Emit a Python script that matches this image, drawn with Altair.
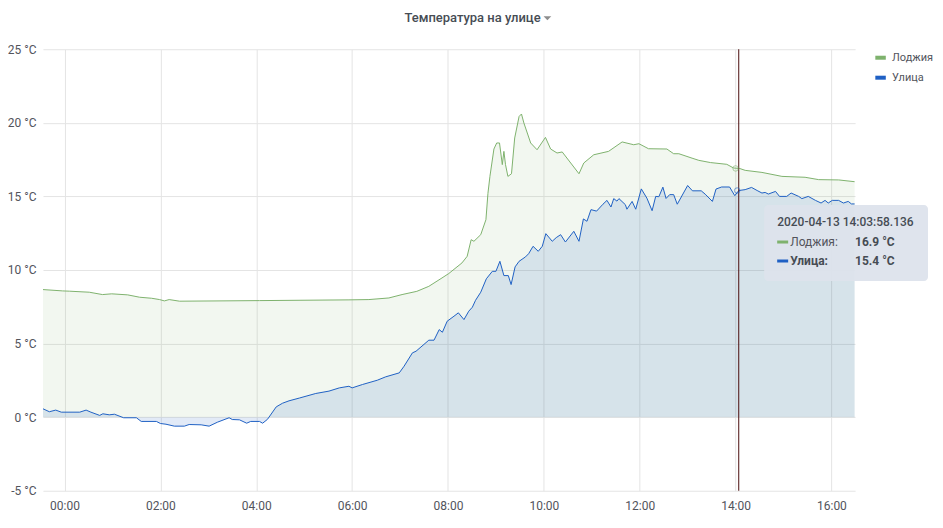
import altair as alt
import pandas as pd

DAY = "2020-04-13"

# minutes after midnight 2020-04-13 (negative = evening of 04-12), °C
loggia_min = [-27, -2.5, 6, 31, 47.5, 59, 79, 94, 109, 119, 125, 131, 144, 244, 356, 381, 406,
              422.5, 441, 456, 472.5, 481, 497.5, 504, 509, 512.5, 521, 527.5, 530, 532.5, 537.5,
              541, 544.5, 548, 550, 552, 555, 559.5, 563.5, 569, 572, 575, 583.5, 591.5, 602,
              608.5, 616.5, 623, 644, 650, 662.5, 681, 698, 712.5, 719, 731, 754, 762.5, 769,
              785.5, 794, 808.5, 829, 837.5, 845, 852, 873, 898, 927, 944, 969, 989]
loggia_temp = [8.67, 8.58, 8.56, 8.49, 8.33, 8.38, 8.31, 8.15, 8.08, 7.99, 7.90, 7.99, 7.88, 7.92,
               7.97, 7.99, 8.10, 8.33, 8.55, 8.89, 9.46, 9.76, 10.48, 10.93, 12.06, 11.95, 12.4,
               13.42, 15.2, 16.36, 18.22, 18.63, 18.63, 17.16, 18.06, 17.16, 16.36, 16.54, 18.97,
               20.43, 20.6, 19.99, 18.63, 18.17, 19.01, 18.22, 17.95, 18.02, 16.54, 17.27, 17.83,
               18.06, 18.7, 18.51, 18.58, 18.24, 18.22, 17.9, 17.9, 17.6, 17.45, 17.3, 17.18,
               16.93, 16.9, 16.77, 16.63, 16.36, 16.3, 16.14, 16.12, 16.0]

street_min = [-27, -19, -11, -4, 19, 27, 33, 44, 48, 56, 62.5, 74, 90, 96, 115, 120, 127, 137.5,
              150, 156, 171, 181, 191.5, 206, 210, 219, 228, 233, 244, 248, 254, 265, 273, 281,
              294, 314.5, 331, 344, 356, 360, 373, 391.5, 402, 419, 425, 435.5, 440, 456, 462.5,
              469, 473, 479, 487.5, 493, 500, 506, 510.5, 514.5, 521, 528, 535.5, 540, 545, 550,
              555.5, 559, 564, 569, 577, 581, 586.5, 593, 598, 602.5, 610.5, 615.5, 621, 627,
              637.5, 644, 649.5, 654, 659, 666, 674, 679, 684, 687.5, 691.5, 694, 702, 704, 710.5,
              715, 722, 729, 735.5, 740, 744, 749, 753, 757.5, 762.5, 767, 780, 786, 797, 802,
              811, 815.5, 822.5, 832.5, 839, 844, 852, 860, 867, 873, 877, 881, 890, 895, 904,
              909.5, 919, 923, 931, 940, 947, 952, 956, 961, 969, 975, 981, 985, 989]
street_temp = [0.57, 0.37, 0.48, 0.34, 0.34, 0.48, 0.34, 0.12, 0.23, 0.16, 0.2, -0.04, -0.04,
               -0.29, -0.29, -0.43, -0.48, -0.61, -0.61, -0.5, -0.52, -0.61, -0.34, -0.04, -0.16,
               -0.18, -0.41, -0.29, -0.29, -0.41, -0.15, 0.7, 0.95, 1.11, 1.3, 1.61, 1.77, 1.99,
               2.1, 1.99, 2.22, 2.51, 2.74, 3.01, 3.46, 4.37, 4.48, 5.23, 5.23, 5.95, 5.77, 6.52,
               6.86, 7.09, 6.63, 7.2, 7.47, 7.94, 8.49, 9.4, 9.91, 9.91, 10.59, 9.62, 9.62, 9.01,
               10.21, 10.59, 10.89, 11.11, 11.61, 11.27, 11.61, 12.47, 11.95, 12.2, 12.4, 11.9,
               12.63, 11.95, 13.47, 13.31, 14.1, 14.0, 14.47, 14.73, 14.28, 14.85, 14.68, 14.85,
               14.44, 14.13, 14.66, 14.13, 15.51, 14.88, 14.03, 15.0, 14.98, 15.63, 14.86, 15.12,
               15.12, 14.47, 15.74, 15.38, 15.38, 15.15, 14.66, 15.5, 15.64, 15.64, 15.05, 15.4,
               15.46, 15.61, 15.4, 15.23, 15.27, 15.16, 15.34, 15.0, 15.0, 15.23, 15.0, 14.85,
               15.0, 14.73, 14.55, 14.73, 14.55, 14.73, 14.73, 14.55, 14.66, 14.49, 14.49]

series_names = ["Лоджия", "Улица"]
series_colors = ["#7eb26d", "#1f60c4"]
x_tick_hours = [0, 2, 4, 6, 8, 10, 12, 14, 16]
y_ticks = [-5, 0, 5, 10, 15, 20, 25]
title_text = "Температура на улице"
cursor_minute = 843.97
cursor_label = "2020-04-13 14:03:58.136"
hover_values = [16.9, 15.4]

base = pd.Timestamp(DAY)


def ts(mins):
    return [base + pd.Timedelta(minutes=m) for m in mins]


loggia_df = pd.DataFrame({"t": ts(loggia_min), "v": loggia_temp, "s": series_names[0]})
street_df = pd.DataFrame({"t": ts(street_min), "v": street_temp, "s": series_names[1]})
lines_df = pd.concat([loggia_df, street_df], ignore_index=True)
cursor_df = pd.DataFrame({"t": ts([cursor_minute])})
hover_df = pd.DataFrame({"t": ts([840, 842]), "v": hover_values, "s": series_names})
one = pd.DataFrame({"a": [0]})

x_scale = alt.Scale(domain=[alt.DateTime(year=2020, month=4, date=12, hours=23, minutes=33),
                            alt.DateTime(year=2020, month=4, date=13, hours=16, minutes=29, seconds=36)])
y_scale = alt.Scale(domain=[-5, 25], nice=False, zero=False)

x_axis = alt.Axis(title=None, format="%H:%M", grid=True, ticks=False, domain=False,
                  values=[alt.DateTime(year=2020, month=4, date=13, hours=h) for h in x_tick_hours],
                  labelPadding=10)
y_axis = alt.Axis(title=None, grid=True, ticks=False, domain=False, values=y_ticks,
                  labelExpr="datum.value + ' °C'", labelPadding=7)

X = alt.X("t:T", scale=x_scale, axis=x_axis)
Y = alt.Y("v:Q", scale=y_scale, axis=y_axis)

green_area = alt.Chart(loggia_df).mark_area(color=series_colors[0], opacity=0.1, clip=True).encode(
    x=X, y=Y, y2=alt.datum(0))
blue_area = alt.Chart(street_df).mark_area(color=series_colors[1], opacity=0.13, clip=True).encode(
    x=X, y=Y, y2=alt.datum(0))

color = alt.Color("s:N", scale=alt.Scale(domain=series_names, range=series_colors),
                  legend=alt.Legend(title=None, orient="none", legendX=831, legendY=1,
                                    symbolType="stroke", symbolStrokeWidth=4, symbolSize=110,
                                    labelFontSize=11, labelColor="#52545c", labelFont="Roboto",
                                    rowPadding=3, labelOffset=4, padding=0, labelLimit=60))
lines = alt.Chart(lines_df).mark_line(strokeWidth=1, clip=True).encode(
    x=X, y=Y, color=color, detail="s:N")

cursor = alt.Chart(cursor_df).mark_rule(color="#4a0d0d", strokeWidth=1).encode(
    x=alt.X("t:T", scale=x_scale))

hover = alt.Chart(hover_df).mark_point(size=30, filled=False, strokeWidth=1, opacity=0.6).encode(
    x=alt.X("t:T", scale=x_scale), y=alt.Y("v:Q", scale=y_scale),
    stroke=alt.Stroke("s:N", scale=alt.Scale(domain=series_names, range=series_colors), legend=None))

title = alt.Chart(one).mark_text(align="center", baseline="middle", font="Roboto", fontSize=13,
                                 fontWeight=500, color="#464c54").encode(
    x=alt.value(430), y=alt.value(-31), text=alt.value(title_text))

caret = alt.Chart(one).mark_point(shape="M-1,-0.5L1,-0.5L0,0.5Z", filled=True, size=60,
                                  color="#8e8e8e", opacity=1).encode(
    x=alt.value(505), y=alt.value(-31))

tip_box = alt.Chart(one).mark_rect(fill="#dde3ec", cornerRadius=4, opacity=0.95).encode(
    x=alt.value(722), x2=alt.value(886), y=alt.value(156), y2=alt.value(232))

tip_title = alt.Chart(one).mark_text(align="left", baseline="middle", font="Roboto", fontSize=12,
                                     fontWeight=500, color="#464c54").encode(
    x=alt.value(735), y=alt.value(173), text=alt.value(cursor_label))

sw1 = alt.Chart(one).mark_rule(color=series_colors[0], strokeWidth=3).encode(
    x=alt.value(735), x2=alt.value(746), y=alt.value(193))
sw2 = alt.Chart(one).mark_rule(color=series_colors[1], strokeWidth=3).encode(
    x=alt.value(735), x2=alt.value(746), y=alt.value(212))

lab1 = alt.Chart(one).mark_text(align="left", baseline="middle", font="Roboto", fontSize=12,
                                color="#52545c").encode(
    x=alt.value(748), y=alt.value(193), text=alt.value(series_names[0] + ":"))
val1 = alt.Chart(one).mark_text(align="left", baseline="middle", font="Roboto", fontSize=12,
                                fontWeight="bold", color="#464c54").encode(
    x=alt.value(813), y=alt.value(193), text=alt.value(f"{hover_values[0]} °C"))
lab2 = alt.Chart(one).mark_text(align="left", baseline="middle", font="Roboto", fontSize=12,
                                fontWeight="bold", color="#464c54").encode(
    x=alt.value(748), y=alt.value(212), text=alt.value(series_names[1] + ":"))
val2 = alt.Chart(one).mark_text(align="left", baseline="middle", font="Roboto", fontSize=12,
                                fontWeight="bold", color="#464c54").encode(
    x=alt.value(813), y=alt.value(212), text=alt.value(f"{hover_values[1]} °C"))

chart = alt.layer(
    green_area, blue_area, lines, cursor, hover, title, caret,
    tip_box, tip_title, sw1, sw2, lab1, val1, lab2, val2
).resolve_scale(stroke="independent").properties(
    width=813, height=442,
    autosize=alt.AutoSizeParams(type="none"),
    padding={"left": 35, "top": 41, "right": 80, "bottom": 28},
    background="white",
).configure_view(stroke="transparent").configure_axis(
    gridColor="#e4e4e4", gridWidth=1, labelFont="Roboto", labelFontSize=12, labelColor="#52545c"
)

chart.save("out.html", embed_options={"renderer": "svg", "actions": False})
